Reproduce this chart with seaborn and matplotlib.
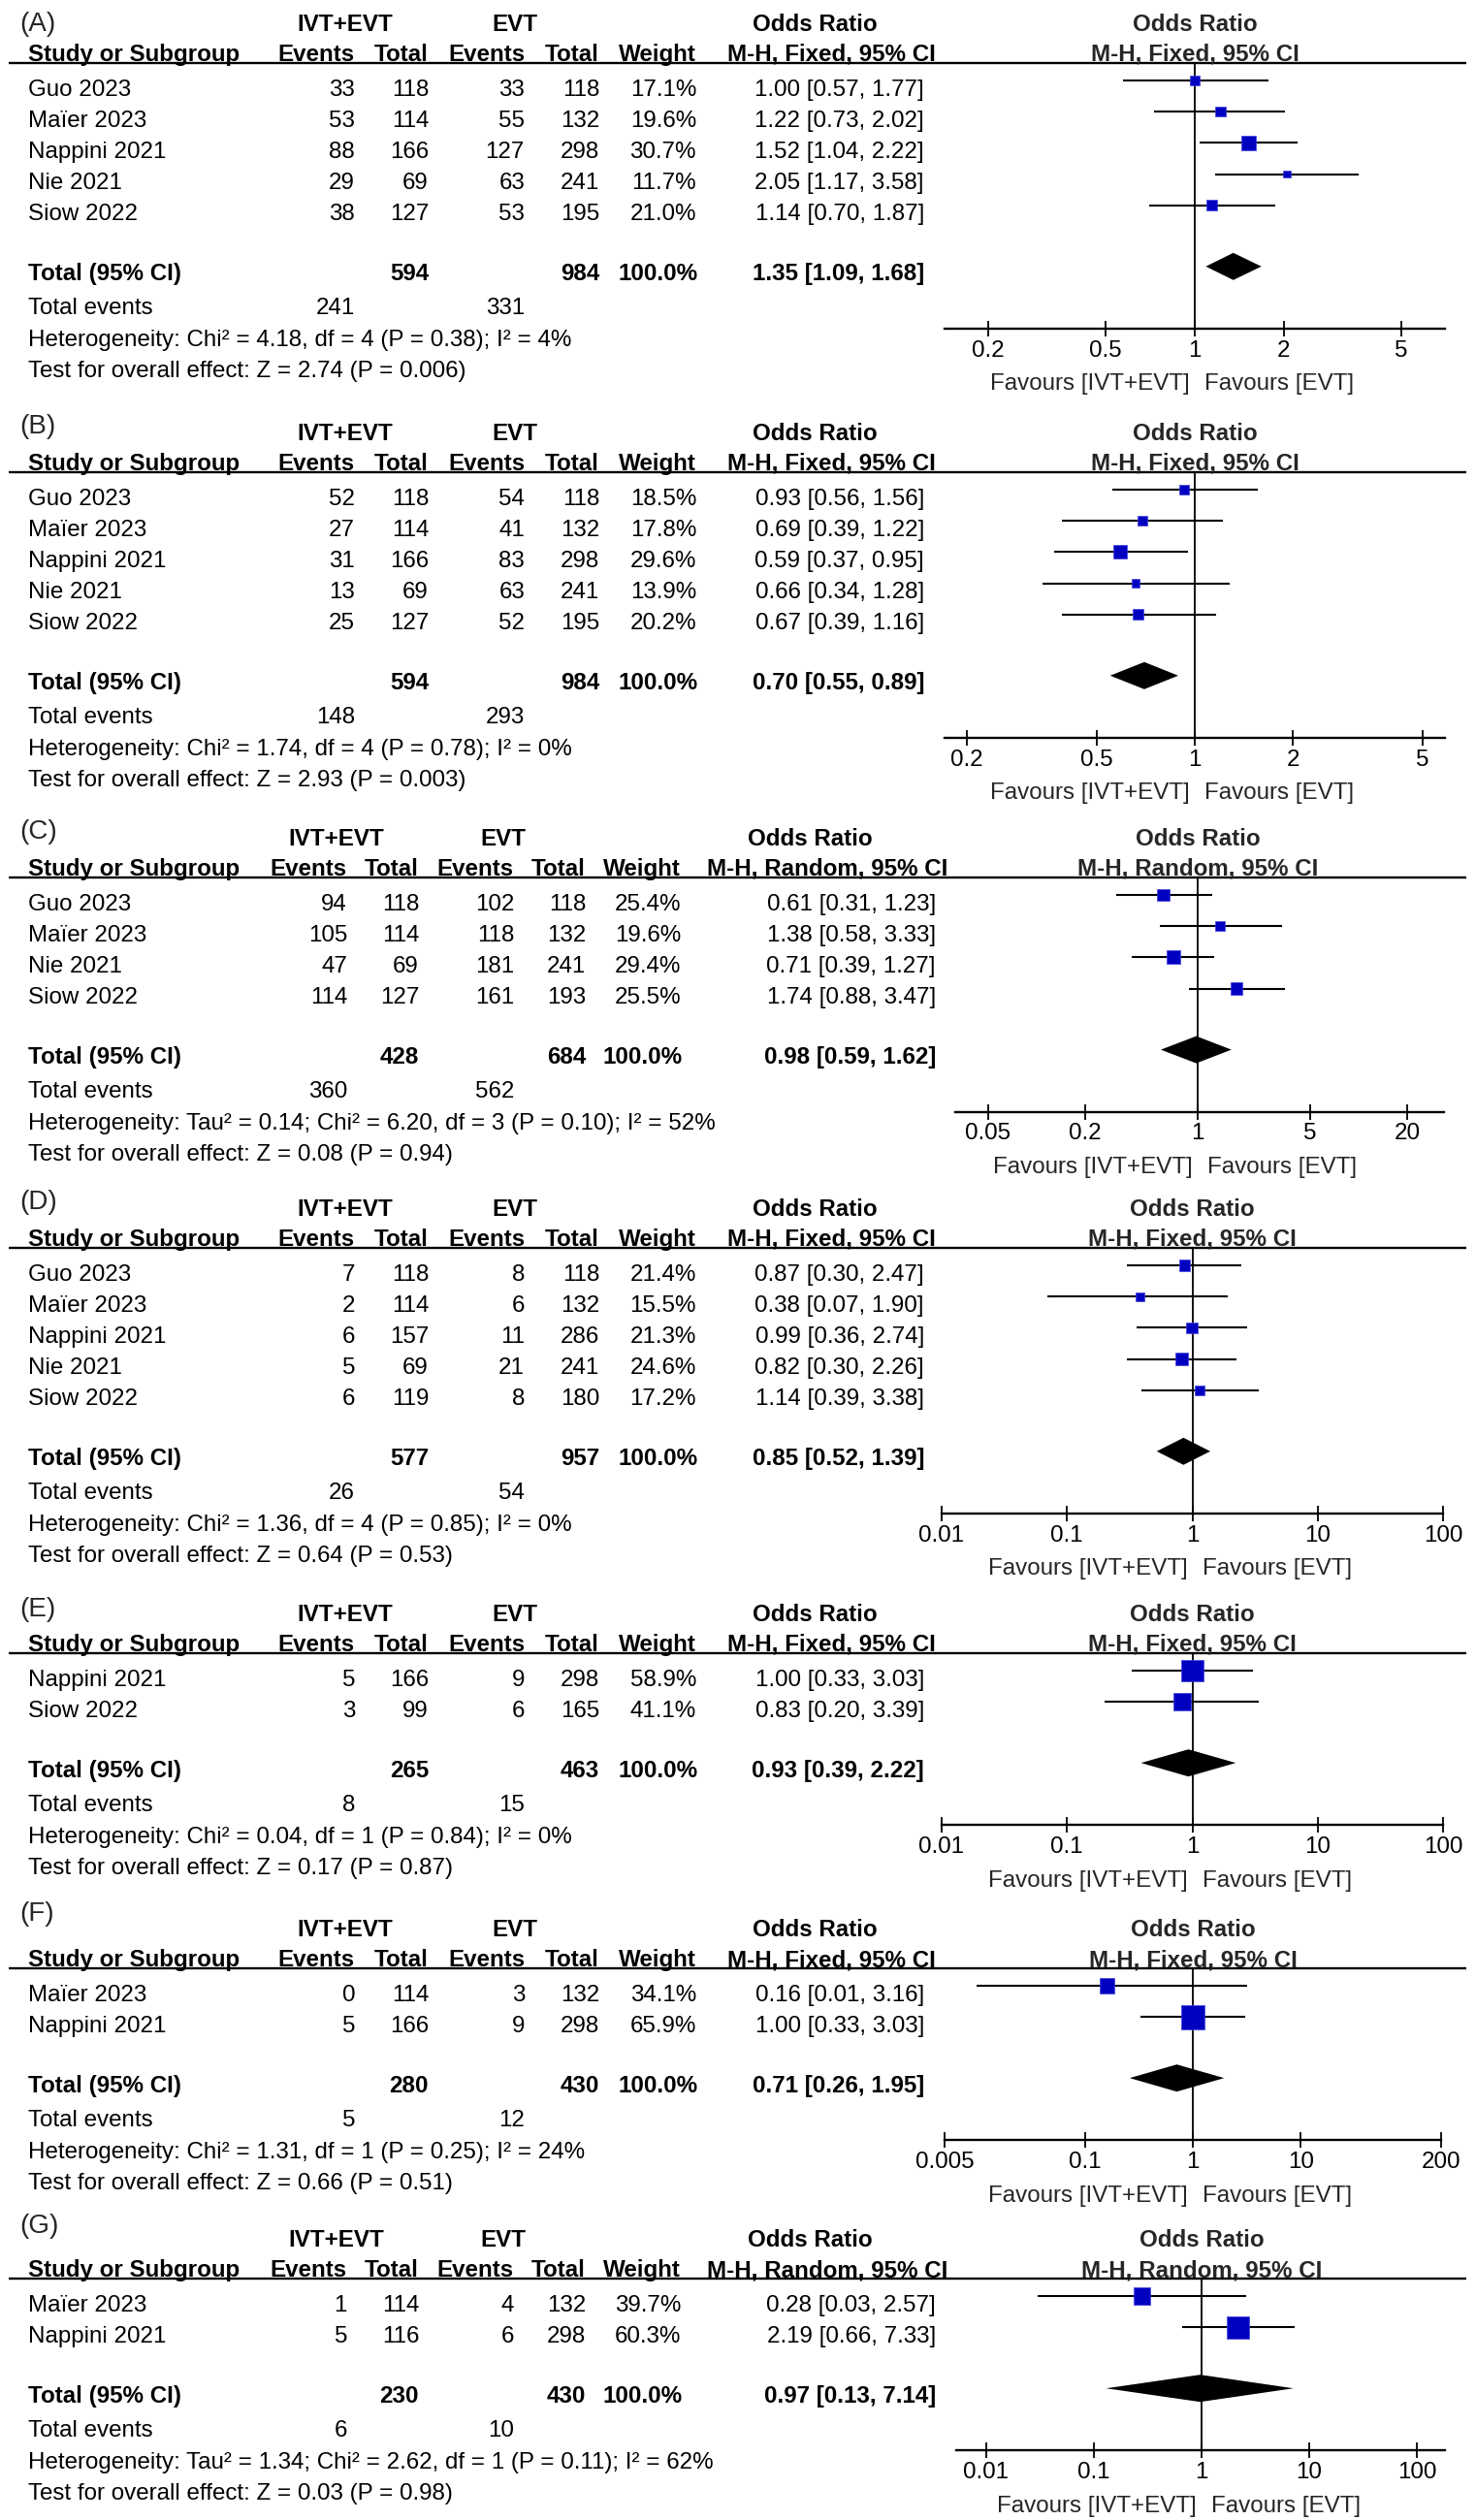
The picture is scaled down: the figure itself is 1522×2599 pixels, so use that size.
import numpy as np
import pandas as pd
import matplotlib
matplotlib.use("Agg")
import matplotlib.pyplot as plt
import matplotlib.transforms as mtransforms
from matplotlib.ticker import NullLocator
import seaborn as sns

# ------------------------------------------------------------------ data
studies_A = ["Guo 2023", "Maïer 2023", "Nappini 2021", "Nie 2021", "Siow 2022"]
ivt_ev_A = [33, 53, 88, 29, 38]
ivt_n_A = [118, 114, 166, 69, 127]
evt_ev_A = [33, 55, 127, 63, 53]
evt_n_A = [118, 132, 298, 241, 195]
weight_A = [17.1, 19.6, 30.7, 11.7, 21.0]
or_A = [1.00, 1.22, 1.52, 2.05, 1.14]
lo_A = [0.57, 0.73, 1.04, 1.17, 0.70]
hi_A = [1.77, 2.02, 2.22, 3.58, 1.87]
totals_A = [594, 984]
tot_events_A = [241, 331]
pooled_A = [1.35, 1.09, 1.68]
het_A = "Heterogeneity: Chi² = 4.18, df = 4 (P = 0.38); I² = 4%"
test_A = "Test for overall effect: Z = 2.74 (P = 0.006)"
ticks_A = [0.2, 0.5, 1, 2, 5]

studies_B = ["Guo 2023", "Maïer 2023", "Nappini 2021", "Nie 2021", "Siow 2022"]
ivt_ev_B = [52, 27, 31, 13, 25]
ivt_n_B = [118, 114, 166, 69, 127]
evt_ev_B = [54, 41, 83, 63, 52]
evt_n_B = [118, 132, 298, 241, 195]
weight_B = [18.5, 17.8, 29.6, 13.9, 20.2]
or_B = [0.93, 0.69, 0.59, 0.66, 0.67]
lo_B = [0.56, 0.39, 0.37, 0.34, 0.39]
hi_B = [1.56, 1.22, 0.95, 1.28, 1.16]
totals_B = [594, 984]
tot_events_B = [148, 293]
pooled_B = [0.70, 0.55, 0.89]
het_B = "Heterogeneity: Chi² = 1.74, df = 4 (P = 0.78); I² = 0%"
test_B = "Test for overall effect: Z = 2.93 (P = 0.003)"
ticks_B = [0.2, 0.5, 1, 2, 5]

studies_C = ["Guo 2023", "Maïer 2023", "Nie 2021", "Siow 2022"]
ivt_ev_C = [94, 105, 47, 114]
ivt_n_C = [118, 114, 69, 127]
evt_ev_C = [102, 118, 181, 161]
evt_n_C = [118, 132, 241, 193]
weight_C = [25.4, 19.6, 29.4, 25.5]
or_C = [0.61, 1.38, 0.71, 1.74]
lo_C = [0.31, 0.58, 0.39, 0.88]
hi_C = [1.23, 3.33, 1.27, 3.47]
totals_C = [428, 684]
tot_events_C = [360, 562]
pooled_C = [0.98, 0.59, 1.62]
het_C = "Heterogeneity: Tau² = 0.14; Chi² = 6.20, df = 3 (P = 0.10); I² = 52%"
test_C = "Test for overall effect: Z = 0.08 (P = 0.94)"
ticks_C = [0.05, 0.2, 1, 5, 20]

studies_D = ["Guo 2023", "Maïer 2023", "Nappini 2021", "Nie 2021", "Siow 2022"]
ivt_ev_D = [7, 2, 6, 5, 6]
ivt_n_D = [118, 114, 157, 69, 119]
evt_ev_D = [8, 6, 11, 21, 8]
evt_n_D = [118, 132, 286, 241, 180]
weight_D = [21.4, 15.5, 21.3, 24.6, 17.2]
or_D = [0.87, 0.38, 0.99, 0.82, 1.14]
lo_D = [0.30, 0.07, 0.36, 0.30, 0.39]
hi_D = [2.47, 1.90, 2.74, 2.26, 3.38]
totals_D = [577, 957]
tot_events_D = [26, 54]
pooled_D = [0.85, 0.52, 1.39]
het_D = "Heterogeneity: Chi² = 1.36, df = 4 (P = 0.85); I² = 0%"
test_D = "Test for overall effect: Z = 0.64 (P = 0.53)"
ticks_D = [0.01, 0.1, 1, 10, 100]

studies_E = ["Nappini 2021", "Siow 2022"]
ivt_ev_E = [5, 3]
ivt_n_E = [166, 99]
evt_ev_E = [9, 6]
evt_n_E = [298, 165]
weight_E = [58.9, 41.1]
or_E = [1.00, 0.83]
lo_E = [0.33, 0.20]
hi_E = [3.03, 3.39]
totals_E = [265, 463]
tot_events_E = [8, 15]
pooled_E = [0.93, 0.39, 2.22]
het_E = "Heterogeneity: Chi² = 0.04, df = 1 (P = 0.84); I² = 0%"
test_E = "Test for overall effect: Z = 0.17 (P = 0.87)"
ticks_E = [0.01, 0.1, 1, 10, 100]

studies_F = ["Maïer 2023", "Nappini 2021"]
ivt_ev_F = [0, 5]
ivt_n_F = [114, 166]
evt_ev_F = [3, 9]
evt_n_F = [132, 298]
weight_F = [34.1, 65.9]
or_F = [0.16, 1.00]
lo_F = [0.01, 0.33]
hi_F = [3.16, 3.03]
totals_F = [280, 430]
tot_events_F = [5, 12]
pooled_F = [0.71, 0.26, 1.95]
het_F = "Heterogeneity: Chi² = 1.31, df = 1 (P = 0.25); I² = 24%"
test_F = "Test for overall effect: Z = 0.66 (P = 0.51)"
ticks_F = [0.005, 0.1, 1, 10, 200]

studies_G = ["Maïer 2023", "Nappini 2021"]
ivt_ev_G = [1, 5]
ivt_n_G = [114, 116]
evt_ev_G = [4, 6]
evt_n_G = [132, 298]
weight_G = [39.7, 60.3]
or_G = [0.28, 2.19]
lo_G = [0.03, 0.66]
hi_G = [2.57, 7.33]
totals_G = [230, 430]
tot_events_G = [6, 10]
pooled_G = [0.97, 0.13, 7.14]
het_G = "Heterogeneity: Tau² = 1.34; Chi² = 2.62, df = 1 (P = 0.11); I² = 62%"
test_G = "Test for overall effect: Z = 0.03 (P = 0.98)"
ticks_G = [0.01, 0.1, 1, 10, 100]

panel_ids = ["A", "B", "C", "D", "E", "F", "G"]
methods = ["Fixed", "Fixed", "Random", "Fixed", "Fixed", "Fixed", "Random"]

G_ = globals()
panels = []
for pid, meth in zip(panel_ids, methods):
    panels.append(dict(
        pid=pid, method=meth,
        df=pd.DataFrame({
            "study": G_["studies_" + pid], "ivt_ev": G_["ivt_ev_" + pid],
            "ivt_n": G_["ivt_n_" + pid], "evt_ev": G_["evt_ev_" + pid],
            "evt_n": G_["evt_n_" + pid], "weight": G_["weight_" + pid],
            "or": G_["or_" + pid], "lo": G_["lo_" + pid], "hi": G_["hi_" + pid]}),
        totals=G_["totals_" + pid], tot_events=G_["tot_events_" + pid],
        pooled=G_["pooled_" + pid], het=G_["het_" + pid], test=G_["test_" + pid],
        ticks=G_["ticks_" + pid]))

# ------------------------------------------------------------------ layout (pixels)
FIG_W, FIG_H, DPI = 1522, 2599, 100
FS = 17.4
BASE = 8.6          # cap-centre -> baseline
ROW0, ROWH = 25, 32.2
underline_y = [65, 487, 905, 1287, 1705, 2030, 2350]
label_dy = [-43, -50, -50, -50, -48, -59, -57]
# forest axis: pixel of OR=1, pixels per decade, axis-line pixel extent
forest_geom = [
    (1232, 305, 974, 1490),
    (1232, 336, 974, 1490),
    (1235, 166, 985, 1489),
    (1230, 129.5, 971, 1488),
    (1230, 129.5, 971, 1488),
    (1230, 111.3, 974, 1486),
    (1239, 111, 986, 1490),
]
cols = {
    "Fixed": dict(name=29, ev1=366, n1=442, ev2=541, n2=618, w=718, orr=953,
                  g1=356, g2=531, orh=840, mh=857),
    "Random": dict(name=29, ev1=358, n1=432, ev2=530, n2=604, w=702, orr=965,
                   g1=347, g2=519, orh=835, mh=853),
}
SQ_COLOR = "#0000C0"

sns.set_theme(style="white")
plt.rcParams["font.family"] = ["Liberation Sans", "DejaVu Sans"]
plt.rcParams["axes.unicode_minus"] = False

fig = plt.figure(figsize=(FIG_W / DPI, FIG_H / DPI), dpi=DPI)
fig.patch.set_facecolor("white")
tax = fig.add_axes([0, 0, 1, 1])
tax.set_xlim(0, FIG_W)
tax.set_ylim(FIG_H, 0)
tax.axis("off")


def T(x, yc, s, ha="left", bold=False, size=FS, **kw):
    tax.text(x, yc + BASE, s, ha=ha, va="baseline", fontsize=size,
             fontweight="bold" if bold else "normal", color="black", **kw)


def fmt_or(o, l, h):
    return f"{o:.2f} [{l:.2f}, {h:.2f}]"


for k, p in enumerate(panels):
    U = underline_y[k]
    c = cols[p["method"]]
    df = p["df"]
    nrow = len(df)

    # panel label
    tax.text(20, U + label_dy[k] + 10, f"({p['pid']})", fontsize=20,
             va="baseline", ha="left")
    h1 = U - 42
    h2 = U - 10.6
    T(c["g1"], h1, "IVT+EVT", "center", True)
    T(c["g2"], h1, "EVT", "center", True)
    T(c["orh"], h1, "Odds Ratio", "center", True)
    T(c["name"], h2, "Study or Subgroup", "left", True)
    T(c["ev1"], h2, "Events", "right", True)
    T(c["n1"], h2, "Total", "right", True)
    T(c["ev2"], h2, "Events", "right", True)
    T(c["n2"], h2, "Total", "right", True)
    T(c["w"], h2, "Weight", "right", True)
    mh = f"M-H, {p['method']}, 95% CI"
    T(c["mh"], h2, mh, "center", True)
    tax.plot([9, 1512], [U, U], color="black", lw=1.7, solid_capstyle="butt")

    row_y = U + ROW0 + ROWH * np.arange(nrow)
    for i, r in df.iterrows():
        y = row_y[i]
        T(c["name"], y, r["study"])
        T(c["ev1"], y, f"{int(r['ivt_ev'])}", "right")
        T(c["n1"], y, f"{int(r['ivt_n'])}", "right")
        T(c["ev2"], y, f"{int(r['evt_ev'])}", "right")
        T(c["n2"], y, f"{int(r['evt_n'])}", "right")
        T(c["w"], y, f"{r['weight']:.1f}%", "right")
        T(c["orr"], y, fmt_or(r["or"], r["lo"], r["hi"]), "right")

    y_tot = row_y[-1] + 62
    T(c["name"], y_tot, "Total (95% CI)", "left", True)
    T(c["n1"], y_tot, f"{p['totals'][0]}", "right", True)
    T(c["n2"], y_tot, f"{p['totals'][1]}", "right", True)
    T(c["w"] + 2, y_tot, "100.0%", "right", True)
    T(c["orr"], y_tot, fmt_or(*p["pooled"]), "right", True)
    y_ev = y_tot + 35
    T(c["name"], y_ev, "Total events")
    T(c["ev1"], y_ev, f"{p['tot_events'][0]}", "right")
    T(c["ev2"], y_ev, f"{p['tot_events'][1]}", "right")
    T(c["name"], y_ev + 33, p["het"])
    T(c["name"], y_ev + 65, p["test"])

    # ---------------- forest plot axes
    x1, dec, ax_l, ax_r = forest_geom[k]
    axis_y = y_tot + 58
    ax = fig.add_axes([ax_l / FIG_W, 1 - axis_y / FIG_H,
                       (ax_r - ax_l) / FIG_W, (axis_y - U) / FIG_H])
    ax.patch.set_visible(False)

    mark_y = row_y - 7
    plot_df = df.assign(y=mark_y)
    side_px = 1.27 * plot_df["weight"] ** 0.71
    sizes = {s: (sp * 72 / DPI) ** 2 for s, sp in zip(plot_df["study"], side_px)}
    ax.hlines(plot_df["y"], plot_df["lo"], plot_df["hi"], color="black",
              lw=1.5, zorder=2)
    sns.scatterplot(data=plot_df, x="or", y="y", size="study", sizes=sizes,
                    marker="s", color=SQ_COLOR, edgecolor="#4040E0",
                    linewidth=0.5, legend=False, ax=ax, zorder=3)
    po, pl, ph = p["pooled"]
    yd = y_tot - 6
    ax.fill([pl, po, ph, po], [yd, yd - 14, yd, yd + 14], color="black",
            lw=0, zorder=3)
    ax.axvline(1, color="black", lw=1.3, zorder=1)

    ax.set_xscale("log")
    ax.set_xlim(10 ** ((ax_l - x1) / dec), 10 ** ((ax_r - x1) / dec))
    ax.set_ylim(axis_y, U)
    ax.set_xlabel("")
    ax.set_ylabel("")
    ax.set_yticks([])
    ax.grid(False)
    for s in ["top", "left", "right"]:
        ax.spines[s].set_visible(False)
    ax.spines["bottom"].set_linewidth(1.7)
    ax.spines["bottom"].set_color("black")
    ax.set_xticks(p["ticks"])
    ax.set_xticklabels([f"{t:g}" for t in p["ticks"]])
    ax.xaxis.set_minor_locator(NullLocator())
    ax.tick_params(axis="x", which="major", direction="inout", length=11,
                   width=1.3, pad=3, labelsize=FS, colors="black", bottom=True)

    bt = mtransforms.blended_transform_factory(ax.transData, tax.transData)
    ax.text(1, h1 + BASE, "Odds Ratio", transform=bt, ha="center",
            va="baseline", fontsize=FS, fontweight="bold", clip_on=False)
    ax.text(1, h2 + BASE, mh, transform=bt, ha="center", va="baseline",
            fontsize=FS, fontweight="bold", clip_on=False)
    fav_y = axis_y + 55 + BASE
    ax.text(1, fav_y, "Favours [IVT+EVT]",
            transform=mtransforms.offset_copy(bt, fig=fig, x=-5, y=0, units="dots"),
            ha="right", va="baseline", fontsize=FS, clip_on=False)
    ax.text(1, fav_y, "Favours [EVT]",
            transform=mtransforms.offset_copy(bt, fig=fig, x=10, y=0, units="dots"),
            ha="left", va="baseline", fontsize=FS, clip_on=False)

fig.savefig("out.png", dpi=DPI, facecolor="white")
